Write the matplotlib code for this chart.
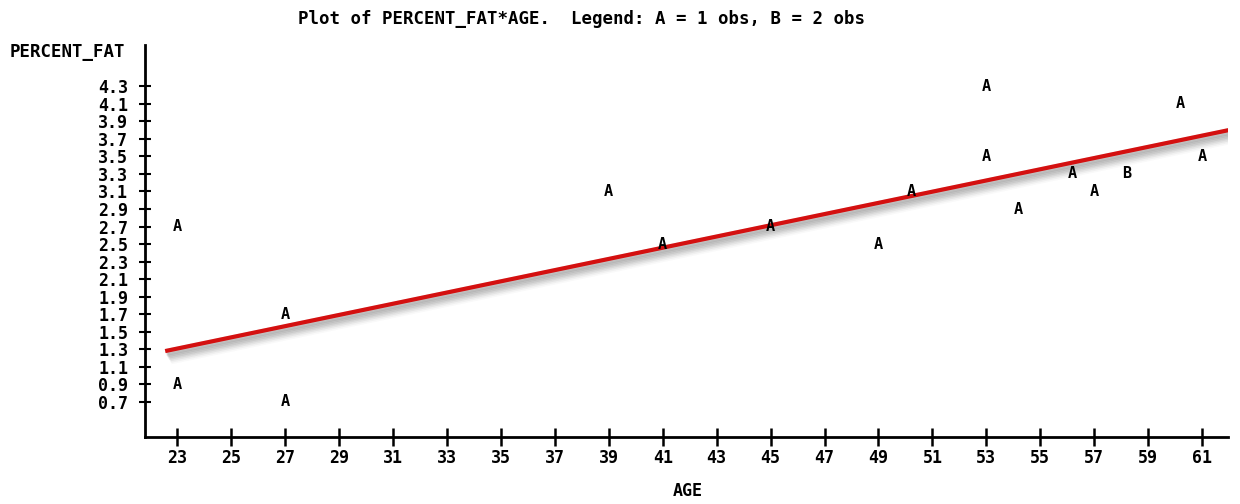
import matplotlib
matplotlib.use("Agg")
import matplotlib.pyplot as plt
import matplotlib.patheffects as pe

age = [23, 23, 27, 27, 39, 41, 45, 49, 50.2, 53, 53, 54.2, 56.2, 57, 58.2, 60.2, 61]
percent_fat = [2.7, 0.9, 1.7, 0.7, 3.1, 2.5, 2.7, 2.5, 3.1, 4.3, 3.5, 2.9, 3.3, 3.1, 3.3, 4.1, 3.5]
n_obs = [1, 1, 1, 1, 1, 1, 1, 1, 1, 1, 1, 1, 1, 1, 2, 1, 1]

# fitted regression line end points
fit_age = [22.55, 62.15]
fit_fat = [1.28, 3.81]

x_ticks = list(range(23, 62, 2))
y_ticks = [round(0.7 + 0.2 * i, 1) for i in range(19)]

MONO = "DejaVu Sans Mono"


def main():
    fig = plt.figure(figsize=(12.4, 5.04), dpi=100)
    ax = fig.add_axes([0.1169, 0.1329, 0.8734, 0.7778])

    # regression line with a soft grey drop shadow
    shadow = []
    for off, a in [(1, 0.15), (2, 0.14), (3, 0.12), (4, 0.10), (5, 0.08), (6, 0.06), (7, 0.04)]:
        shadow.append(pe.SimpleLineShadow(offset=(off * 0.6, -off), shadow_color="#666666",
                                          alpha=a, linewidth=5))
    ax.plot(fit_age, fit_fat, color="#d41010", linewidth=3, solid_capstyle="butt",
            path_effects=shadow + [pe.Normal()], zorder=3)

    for x, y, n in zip(age, percent_fat, n_obs):
        ax.text(x, y, chr(64 + n), ha="center", va="center", fontsize=11,
                family=MONO, fontweight="bold", zorder=4)

    ax.set_xlim(21.8, 61.96)
    ax.set_ylim(0.30, 4.77)

    ax.spines["top"].set_visible(False)
    ax.spines["right"].set_visible(False)
    for side in ("left", "bottom"):
        ax.spines[side].set_linewidth(2)
        ax.spines[side].set_color("black")

    ax.set_xticks(x_ticks)
    ax.set_xticklabels([str(t) for t in x_ticks])
    ax.set_yticks(y_ticks)
    ax.set_yticklabels([f"{t:.1f}" for t in y_ticks])
    ax.tick_params(axis="x", direction="inout", length=13, width=1.8, pad=2, labelsize=12)
    ax.tick_params(axis="y", direction="inout", length=8, width=1.5, pad=8, labelsize=12)
    for lab in ax.get_xticklabels() + ax.get_yticklabels():
        lab.set_family(MONO)
        lab.set_fontweight("bold")

    fig.text(0.4686, 0.962, "Plot of PERCENT_FAT*AGE.  Legend: A = 1 obs, B = 2 obs",
             ha="center", va="center", fontsize=12.5, family=MONO, fontweight="bold")
    fig.text(0.008, 0.897, "PERCENT_FAT", ha="left", va="center", fontsize=12.5,
             family=MONO, fontweight="bold")
    fig.text(0.555, 0.026, "AGE", ha="center", va="center", fontsize=12,
             family=MONO, fontweight="bold")

    fig.savefig("out.png", dpi=100, facecolor="white")
    plt.close(fig)


if __name__ == "__main__":
    main()
